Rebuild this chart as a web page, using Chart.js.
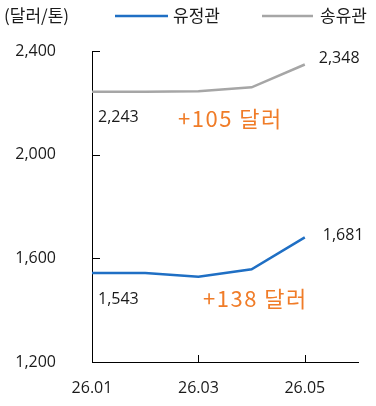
<!DOCTYPE html>
<html>
<head>
<meta charset="utf-8">
<script src="https://cdn.jsdelivr.net/npm/chart.js@4/dist/chart.umd.min.js"></script>
<style>
  html, body { margin: 0; padding: 0; background: #fff; }
  #wrap { width: 376px; height: 406px; }
</style>
</head>
<body>
<div id="wrap"><canvas id="c" width="376" height="406"></canvas></div>
<script>
// Monthly price, USD per ton (26.06 slot left empty as axis headroom)
const months = ['26.01', '26.02', '26.03', '26.04', '26.05', '26.06'];
const oilWellPipe = [1543, 1543, 1529, 1558, 1681, null];   // 유정관
const lineTube    = [2243, 2243, 2245, 2260, 2348, null];   // 송유관
const seriesNames = ['유정관', '송유관'];
const yTicks = [1200, 1600, 2000, 2400];
const changeNotes = ['+105 달러', '+138 달러'];

const BLUE = '#1F6FC4';
const GREY = '#A6A6A6';
const ORANGE = '#F07C28';
const TEXT = '#1a1a1a';
const FONT = '"Noto Sans CJK KR", "Noto Sans", sans-serif';
const NUMFONT = '"Open Sans", "Noto Sans", sans-serif';

const fmt = v => v.toLocaleString('en-US');

const overlay = {
  id: 'overlay',
  afterDraw(chart) {
    const { ctx, chartArea: a, scales: { x, y } } = chart;
    ctx.save();

    // inward tick marks
    ctx.strokeStyle = '#000';
    ctx.lineWidth = 1;
    ctx.beginPath();
    yTicks.forEach(v => {
      const py = Math.round(y.getPixelForValue(v)) + 0.5;
      ctx.moveTo(a.left, py); ctx.lineTo(a.left + 8, py);
    });
    [2, 4].forEach(i => {
      const px = Math.round(x.getPixelForValue(i)) + 0.5;
      ctx.moveTo(px, a.bottom); ctx.lineTo(px, a.bottom - 7);
    });
    ctx.stroke();

    // unit label and legend
    ctx.font = '17px ' + FONT;
    ctx.fillStyle = TEXT;
    ctx.textBaseline = 'middle';
    ctx.textAlign = 'left';
    ctx.fillText('(달러/톤)', 4, 16);
    const legend = [
      { name: seriesNames[0], color: BLUE, x0: 115, x1: 168, tx: 173 },
      { name: seriesNames[1], color: GREY, x0: 262, x1: 313, tx: 320 }
    ];
    legend.forEach(l => {
      ctx.strokeStyle = l.color;
      ctx.lineWidth = 2.5;
      ctx.beginPath();
      ctx.moveTo(l.x0, 16); ctx.lineTo(l.x1, 16);
      ctx.stroke();
      ctx.fillText(l.name, l.tx, 16);
    });

    // value labels at first and last points
    const px0 = x.getPixelForValue(0);
    const px4 = x.getPixelForValue(4);
    ctx.font = '16px ' + NUMFONT;
    ctx.fillStyle = TEXT;
    ctx.fillText(fmt(lineTube[0]), px0 + 6, y.getPixelForValue(lineTube[0]) + 26);
    ctx.fillText(fmt(oilWellPipe[0]), px0 + 6, y.getPixelForValue(oilWellPipe[0]) + 26);
    ctx.fillText(fmt(lineTube[4]), px4 + 14, y.getPixelForValue(lineTube[4]) - 6);
    ctx.fillText(fmt(oilWellPipe[4]), px4 + 18, y.getPixelForValue(oilWellPipe[4]) - 2);

    // change notes
    ctx.font = '400 22px ' + FONT;
    ctx.fillStyle = ORANGE;
    ctx.letterSpacing = '1.5px';
    ctx.fillText(changeNotes[0], 178, 119);
    ctx.fillText(changeNotes[1], 203, 299);

    ctx.restore();
  }
};

new Chart(document.getElementById('c'), {
  type: 'line',
  data: {
    labels: months,
    datasets: [
      { label: seriesNames[0], data: oilWellPipe, borderColor: BLUE, borderWidth: 2.5,
        pointRadius: 0, tension: 0, fill: false },
      { label: seriesNames[1], data: lineTube, borderColor: GREY, borderWidth: 2.5,
        pointRadius: 0, tension: 0, fill: false }
    ]
  },
  options: {
    responsive: false,
    animation: false,
    layout: { padding: { top: 51, right: 18, left: 0, bottom: 0 } },
    plugins: { legend: { display: false }, tooltip: { enabled: false } },
    scales: {
      x: {
        type: 'category',
        offset: false,
        border: { display: true, color: '#000', width: 1 },
        grid: { display: false },
        afterFit: s => { s.height = 44; },
        ticks: {
          autoSkip: false, maxRotation: 0, padding: 9,
          color: TEXT, font: { family: NUMFONT, size: 16 },
          callback: (v, i) => (i % 2 === 0 && i < 5) ? months[i] : ''
        }
      },
      y: {
        min: 1200, max: 2400,
        border: { display: true, color: '#000', width: 1 },
        grid: { display: false },
        afterFit: s => { s.width = 92; },
        afterBuildTicks: s => { s.ticks = yTicks.map(v => ({ value: v })); },
        ticks: {
          padding: 28, color: TEXT, font: { family: NUMFONT, size: 16 },
          callback: v => fmt(v)
        }
      }
    }
  },
  plugins: [overlay]
});
</script>
</body>
</html>
